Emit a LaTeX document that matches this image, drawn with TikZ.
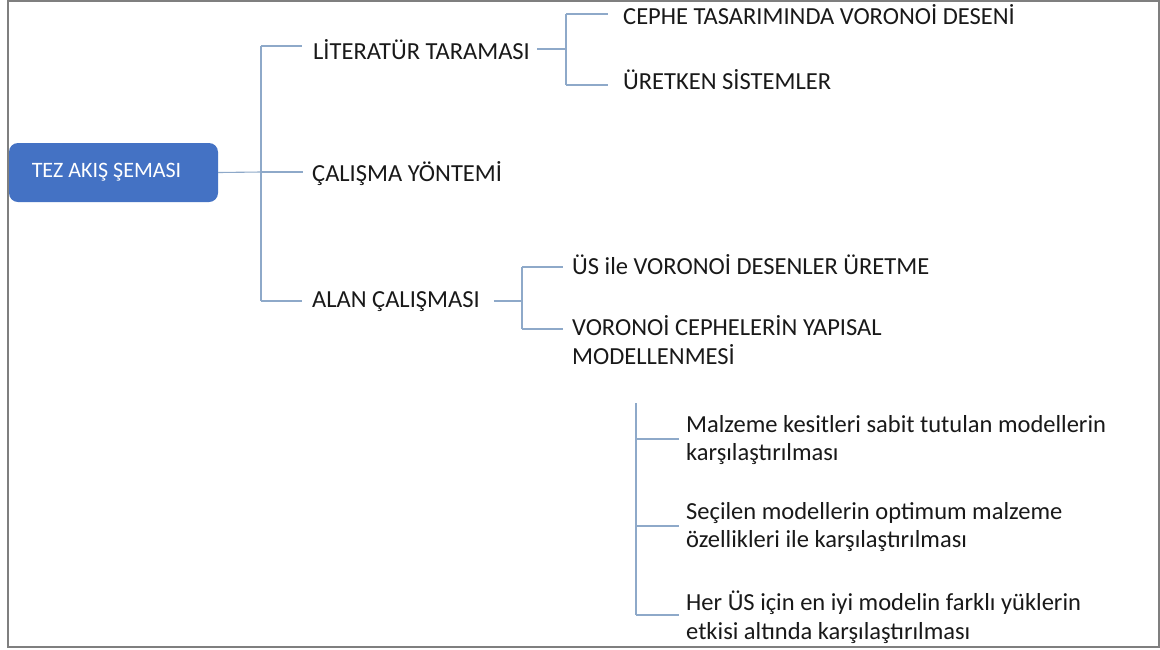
\documentclass[tikz,border=0pt]{standalone}
\usepackage{fontspec}
\setmainfont{Carlito}
\definecolor{linkblue}{HTML}{8EA9C9}
\definecolor{boxblue}{HTML}{4472C4}
\definecolor{framegray}{HTML}{7F7F7F}
\tikzset{
  label/.style={anchor=west, inner sep=0pt, font=\fontsize{24.5}{28.5}\selectfont, align=left, text=black!90},
  conn/.style={draw=linkblue, line width=1.1pt},
  rootbox/.style={fill=boxblue, rounded corners=9pt, minimum width=209pt, minimum height=59pt,
                  text=white, font=\fontsize{22}{27}\selectfont, inner sep=0pt}
}
\begin{document}
\begin{tikzpicture}[x=1pt, y=-1pt]
\useasboundingbox (0,0) rectangle (1160,649);
\fill[white] (0,0) rectangle (1160,649);
% outer frame
\draw[framegray, line width=2pt] (7.5,1) rectangle (1158.5,646.5);

% root
\node[rootbox] (root) at (113.5,172.5) {TEZ AKIŞ ŞEMASI\hspace*{14pt}};

% first level
\node[label] (lit)  at (313,50)  {LİTERATÜR TARAMASI};
\node[label] (cal)  at (312,174) {ÇALIŞMA YÖNTEMİ};
\node[label] (alan) at (312,302) {ALAN ÇALIŞMASI};

% literature branch
\node[label] (cephe) at (623,15) {CEPHE TASARIMINDA VORONOİ DESENİ};
\node[label] (uret)  at (623,80) {ÜRETKEN SİSTEMLER};

% field work branch
\node[label] (us)  at (572,265) {ÜS ile VORONOİ DESENLER ÜRETME};
\node[label] (vor) at (572,340) {VORONOİ CEPHELERİN YAPISAL\\MODELLENMESİ};

% modelling steps
\node[label] (m1) at (686,440) {Malzeme kesitleri sabit tutulan modellerin\\karşılaştırılması};
\node[label] (m2) at (686,527) {Seçilen modellerin optimum malzeme\\özellikleri ile karşılaştırılması};
\node[label] (m3) at (686,617) {Her ÜS için en iyi modelin farklı yüklerin\\etkisi altında karşılaştırılması};

% junction points
\coordinate (t0) at (261,172);
\coordinate (tTop) at (261,46);
\coordinate (tBot) at (261,301);
\coordinate (lTop) at (566,14);
\coordinate (lMid) at (566,49);
\coordinate (lBot) at (566,85);
\coordinate (aTop) at (522,267);
\coordinate (aMid) at (522,301);
\coordinate (aBot) at (522,329);
\coordinate (mTop) at (636,403);
\coordinate (mBot) at (636,615);

% main trunk
\draw[conn] (root.east) -- (t0);
\draw[conn] (tTop) -- (tBot);
\draw[conn] (tTop) -- (302,46);
\draw[conn] (t0) -- (303,172);
\draw[conn] (tBot) -- (302,301);

% literature sub-tree
\draw[conn] ([xshift=7pt]lit.east |- lMid) -- (lMid);
\draw[conn] (lTop) -- (lBot);
\draw[conn] (lTop) -- (608,14);
\draw[conn] (lBot) -- (608,85);

% field work sub-tree
\draw[conn] ([xshift=14pt]alan.east |- aMid) -- (aMid);
\draw[conn] (aTop) -- (aBot);
\draw[conn] (aTop) -- (563,267);
\draw[conn] (aBot) -- (563,329);

% modelling steps
\draw[conn] (mTop) -- (mBot);
\draw[conn] (636,439) -- (679,439);
\draw[conn] (636,526) -- (679,526);
\draw[conn] (mBot) -- (679,615);
\end{tikzpicture}
\end{document}
